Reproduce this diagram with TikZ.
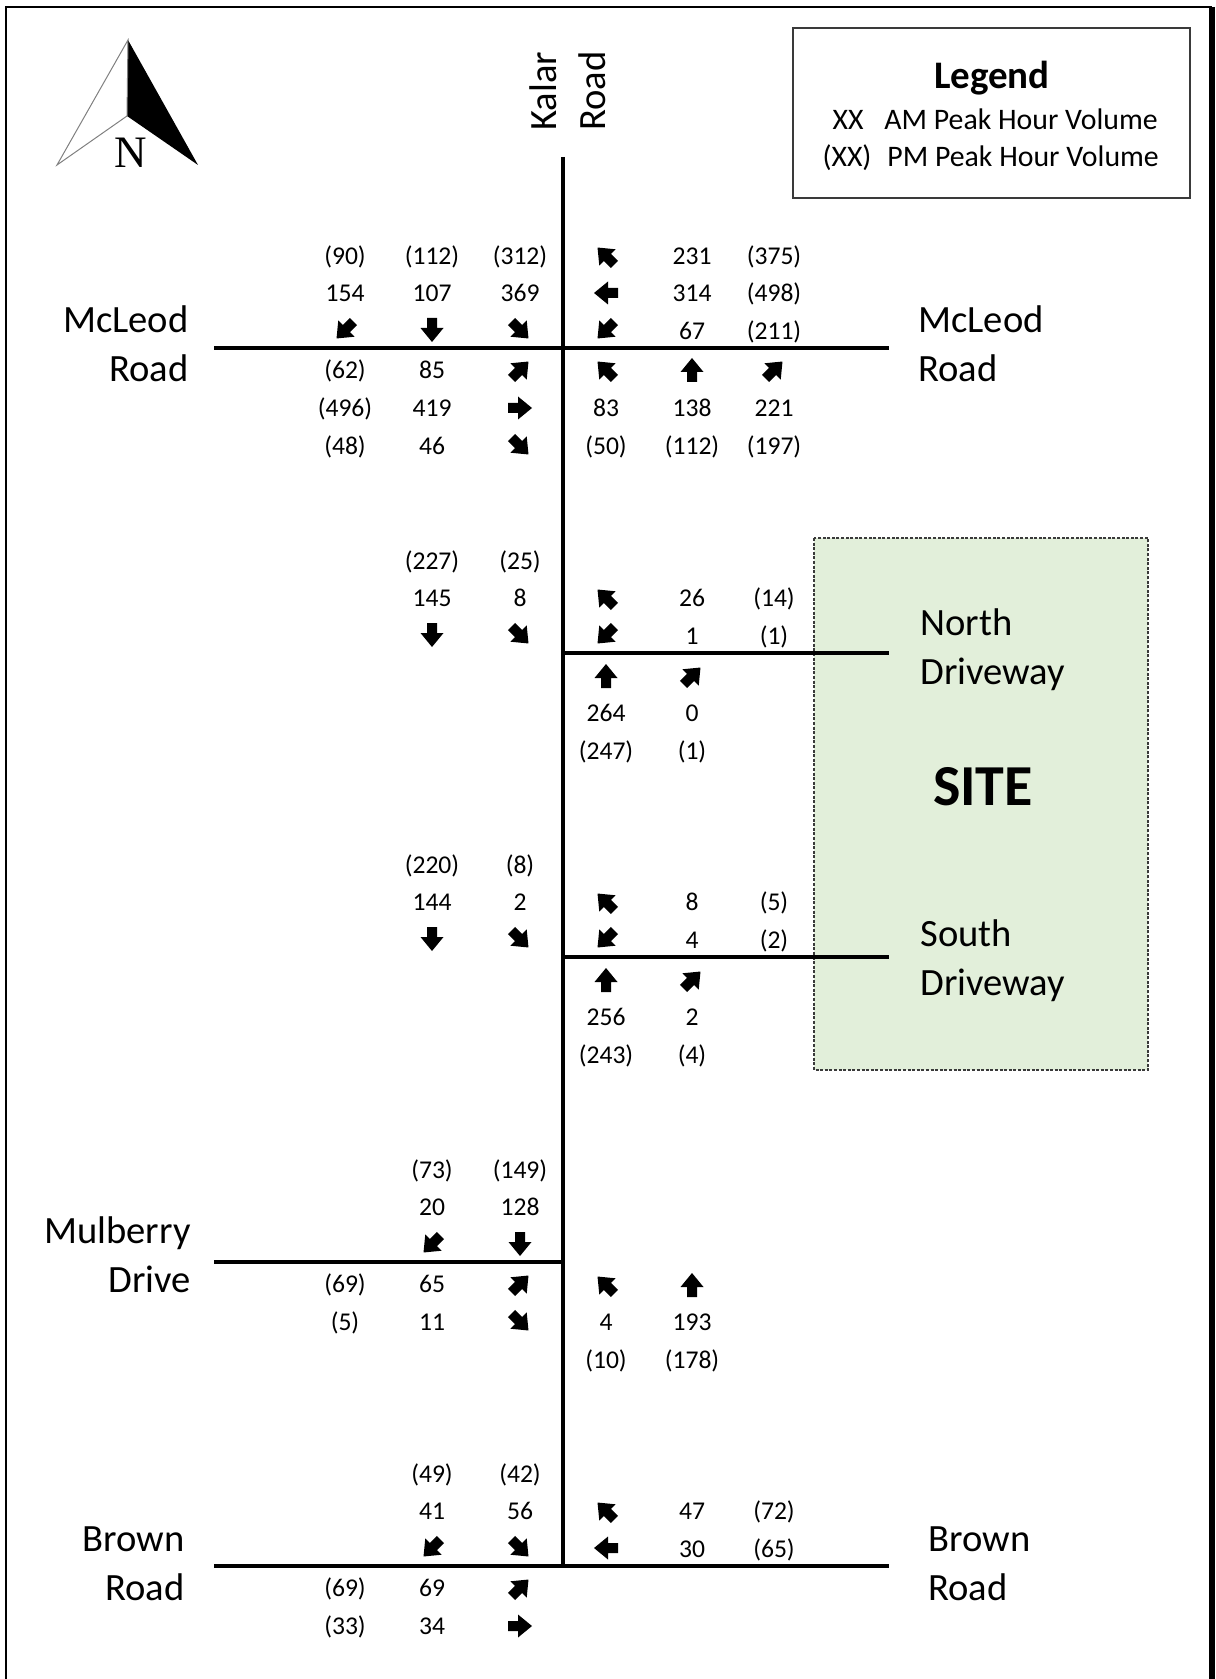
\documentclass[tikz,border=0pt]{standalone}
\usepackage{fontspec}
\setmainfont{Carlito}
\newfontfamily\nfont{Liberation Serif}
\definecolor{sitegreen}{HTML}{E2EFDA}
\definecolor{boxgray}{HTML}{3A3A3A}
\newcommand\tarrow[3]{\fill[shift={({#1},{#2})},rotate=#3] (6pt,0pt) -- (-1pt,5.75pt) -- (-1pt,2.5pt) -- (-6pt,2.5pt) -- (-6pt,-2.5pt) -- (-1pt,-2.5pt) -- (-1pt,-5.75pt) -- cycle;}
\tikzset{
  vol/.style={font=\fontsize{12.8}{15}\selectfont, inner sep=0pt, text height=8.2pt, text depth=0pt},
  rname/.style={font=\fontsize{19.3}{24.5}\selectfont, inner sep=0pt},
  road/.style={line width=1.7pt},
  leg/.style={font=\fontsize{14.9}{18}\selectfont, inner sep=0pt, text height=9.6pt, text depth=0pt},
}
\begin{document}
\begin{tikzpicture}[x=0.5pt,y=-0.5pt]
\useasboundingbox (0,0) rectangle (1215,1679);
\clip (0,0) rectangle (1215,1679);
\def\ca{345}\def\cb{432}\def\cc{520}\def\cd{606}\def\ce{692}\def\cf{774}
% frame
\draw[line width=0.9pt] (6,1700) -- (6,7) -- (1212,7);
\draw[line width=2.6pt] (1212,7) -- (1212,1700);
% north arrow
\fill (128,40) -- (127,116) -- (198,165) -- cycle;
\draw[gray, line width=0.5pt] (128,40) -- (57,165) -- (127,116) -- cycle;
\node[font=\nfont\fontsize{22.5}{26}\selectfont, inner sep=0pt] (north) at (131,153) {N};
% legend
\draw[boxgray, line width=0.9pt] (793,28) rectangle (1190,198);
\node[font=\fontsize{19.5}{23}\selectfont\bfseries, inner sep=0pt] (legtitle) at (992,78) {Legend};
\node[leg] (legxx) at (848,120) {XX};
\node[leg, anchor=west] (legam) at (884,120) {AM Peak Hour Volume};
\node[leg] (legpxx) at (847,157) {(XX)};
\node[leg, anchor=west] (legpm) at (887,157) {PM Peak Hour Volume};
% site
\draw[boxgray, fill=sitegreen, line width=0.7pt, dash pattern=on 1.5pt off 0.8pt] (814,538) rectangle (1148,1070);
\node[font=\fontsize{29}{34}\selectfont\bfseries, inner sep=0pt] (site) at (983,787) {SITE};
% roads
\coordinate (kTop) at (563,157);
\coordinate (mcW) at (214,348); \coordinate (mcE) at (889,348);
\coordinate (ndC) at (563,653); \coordinate (ndE) at (889,653);
\coordinate (sdC) at (563,957); \coordinate (sdE) at (889,957);
\coordinate (muW) at (214,1262); \coordinate (muC) at (563,1262);
\coordinate (brW) at (214,1566); \coordinate (brC) at (563,1566); \coordinate (brE) at (889,1566);
\draw[road] (kTop) -- (brC);
\draw[road] (mcW) -- (mcE);
\draw[road] (ndC) -- (ndE);
\draw[road] (sdC) -- (sdE);
\draw[road] (muW) -- (muC);
\draw[road] (brW) -- (brE);
% road names
\node[rname, align=left, rotate=90, anchor=west] (kalar) at (568,131) {Kalar\\Road};
\node[rname, align=right, anchor=east] (mcWlab) at (189,344) {McLeod\\Road};
\node[rname, align=left, anchor=west] (mcElab) at (918,344) {McLeod\\Road};
\node[rname, align=left, anchor=west] (ndlab) at (920,650) {North\\Driveway};
\node[rname, align=left, anchor=west] (sdlab) at (920,961) {South\\Driveway};
\node[rname, align=right, anchor=east] (mulab) at (191,1255) {Mulberry\\Drive};
\node[rname, align=right, anchor=east] (brWlab) at (185,1564) {Brown\\Road};
\node[rname, align=left, anchor=west] (brElab) at (928,1564) {Brown\\Road};
% ---- McLeod Road
\def\Ly{348}
\foreach \x/\r/\t [count=\i] in {\ca/-92/(90),\cb/-92/(112),\cc/-92/(312),\ca/-55/154,\cb/-55/107,\cc/-55/369,
  \ce/-92/231,\ce/-55/314,\ce/-17/67,\cf/-92/(375),\cf/-55/(498),\cf/-17/(211),
  \ca/22/(62),\ca/60/(496),\ca/98/(48),\cb/22/85,\cb/60/419,\cb/98/46,
  \cd/60/83,\ce/60/138,\cf/60/221,\cd/98/(50),\ce/98/(112),\cf/98/(197)}
  {\node[vol] (mc\i) at ({\x},{\Ly+(\r)}) {\t};}
\foreach \x/\r/\a in {\ca/-18/225,\cb/-18/270,\cc/-18/315,\cd/-92/135,\cd/-55/180,\cd/-18/225,
  \cc/22/45,\cc/60/0,\cc/98/315,\cd/22/135,\ce/22/90,\cf/22/45}
  {\tarrow{\x}{\Ly+(\r)}{\a}}
% ---- North Driveway
\def\Ly{653}
\foreach \x/\r/\t [count=\i] in {\cb/-92/(227),\cc/-92/(25),\cb/-55/145,\cc/-55/8,
  \ce/-55/26,\ce/-17/1,\cf/-55/(14),\cf/-17/(1),
  \cd/60/264,\ce/60/0,\cd/98/(247),\ce/98/(1)}
  {\node[vol] (nd\i) at ({\x},{\Ly+(\r)}) {\t};}
\foreach \x/\r/\a in {\cb/-18/270,\cc/-18/315,\cd/-55/135,\cd/-18/225,\cd/23/90,\ce/23/45}
  {\tarrow{\x}{\Ly+(\r)}{\a}}
% ---- South Driveway
\def\Ly{957}
\foreach \x/\r/\t [count=\i] in {\cb/-92/(220),\cc/-92/(8),\cb/-55/144,\cc/-55/2,
  \ce/-55/8,\ce/-17/4,\cf/-55/(5),\cf/-17/(2),
  \cd/60/256,\ce/60/2,\cd/98/(243),\ce/98/(4)}
  {\node[vol] (sd\i) at ({\x},{\Ly+(\r)}) {\t};}
\foreach \x/\r/\a in {\cb/-18/270,\cc/-18/315,\cd/-55/135,\cd/-18/225,\cd/23/90,\ce/23/45}
  {\tarrow{\x}{\Ly+(\r)}{\a}}
% ---- Mulberry Drive
\def\Ly{1262}
\foreach \x/\r/\t [count=\i] in {\cb/-92/(73),\cc/-92/(149),\cb/-55/20,\cc/-55/128,
  \ca/22/(69),\ca/60/(5),\cb/22/65,\cb/60/11,
  \cd/60/4,\ce/60/193,\cd/98/(10),\ce/98/(178)}
  {\node[vol] (mu\i) at ({\x},{\Ly+(\r)}) {\t};}
\foreach \x/\r/\a in {\cb/-18/225,\cc/-18/270,\cc/22/45,\cc/60/315,\cd/23/135,\ce/23/90}
  {\tarrow{\x}{\Ly+(\r)}{\a}}
% ---- Brown Road
\def\Ly{1566}
\foreach \x/\r/\t [count=\i] in {\cb/-92/(49),\cc/-92/(42),\cb/-55/41,\cc/-55/56,
  \ce/-55/47,\ce/-17/30,\cf/-55/(72),\cf/-17/(65),
  \ca/22/(69),\ca/60/(33),\cb/22/69,\cb/60/34}
  {\node[vol] (br\i) at ({\x},{\Ly+(\r)}) {\t};}
\foreach \x/\r/\a in {\cb/-18/225,\cc/-18/315,\cd/-55/135,\cd/-18/180,\cc/22/45,\cc/60/0}
  {\tarrow{\x}{\Ly+(\r)}{\a}}
\end{tikzpicture}
\end{document}
